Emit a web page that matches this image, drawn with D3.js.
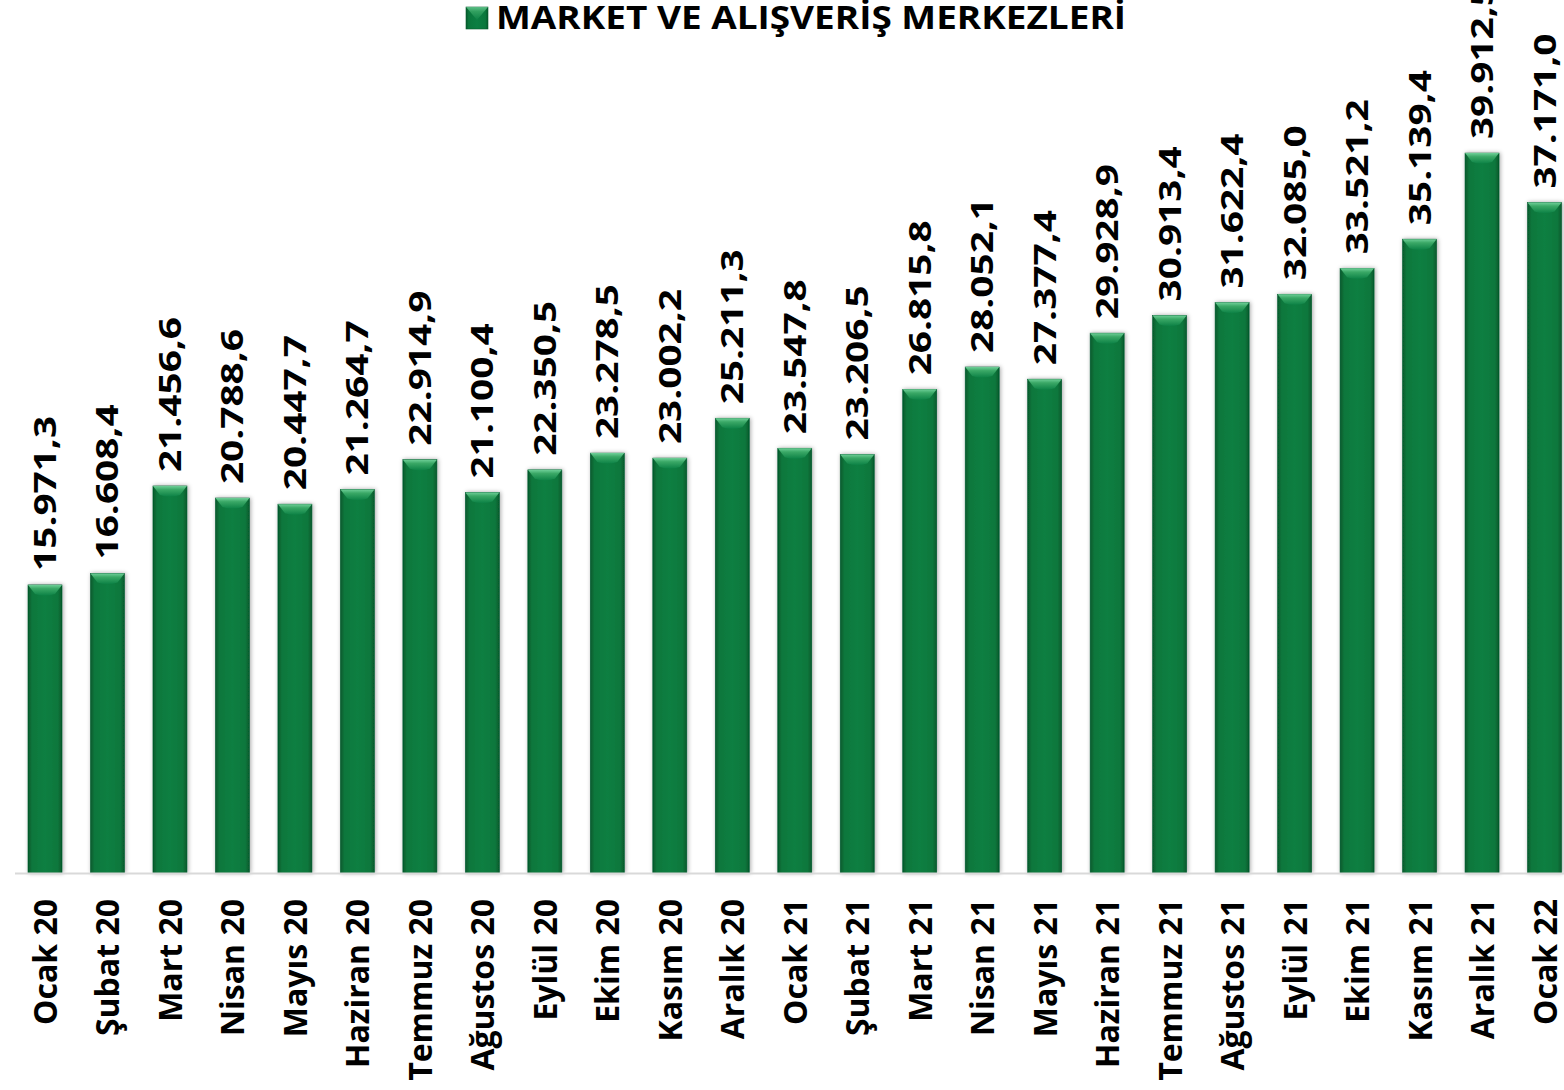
<!DOCTYPE html>
<html>
<head>
<meta charset="utf-8" />
<script src="https://cdnjs.cloudflare.com/ajax/libs/d3/7.8.5/d3.min.js"></script>
<style>
body { margin: 0; background: #fff; }
svg { display: block; font-family: "Open Sans", sans-serif; }
</style>
</head>
<body>
<svg id="chart" width="1564" height="1090"></svg>
<script>
// data
var months = ["Ocak 20","Şubat 20","Mart 20","Nisan 20","Mayıs 20","Haziran 20","Temmuz 20","Ağustos 20",
  "Eylül 20","Ekim 20","Kasım 20","Aralık 20","Ocak 21","Şubat 21","Mart 21","Nisan 21","Mayıs 21",
  "Haziran 21","Temmuz 21","Ağustos 21","Eylül 21","Ekim 21","Kasım 21","Aralık 21","Ocak 22"];
var values = [15971.3,16608.4,21456.6,20788.6,20447.7,21264.7,22914.9,21100.4,22350.5,23278.5,23002.2,
  25211.3,23547.8,23206.5,26815.8,28052.1,27377.4,29928.9,30913.4,31622.4,32085.0,33521.2,35139.4,
  39912.5,37171.0];
var seriesName = "MARKET VE ALIŞVERİŞ MERKEZLERİ";

var svg = d3.select("#chart"),
    width = +svg.attr("width"),
    height = +svg.attr("height");

var trLocale = d3.formatLocale({decimal: ",", thousands: ".", grouping: [3], currency: ["", ""]});
var fmt = trLocale.format(",.1f");

var step = 62.48;
var x = d3.scaleBand()
    .domain(months)
    .range([45 - step / 2, 45 - step / 2 + step * months.length])
    .paddingInner(0.456)
    .paddingOuter(0.228);
var y = d3.scaleLinear().domain([0, 40000]).range([873, 151.5]);

// gradients and shadow
var defs = svg.append("defs");
var body = defs.append("linearGradient").attr("id", "barBody").attr("x1", 0).attr("x2", 1).attr("y1", 0).attr("y2", 0);
[[0, "#06592c"], [0.12, "#0a773c"], [0.5, "#0b7f42"], [0.88, "#0a773c"], [1, "#06592c"]].forEach(function(s) {
  body.append("stop").attr("offset", s[0]).attr("stop-color", s[1]);
});
var cap = defs.append("linearGradient").attr("id", "barCap").attr("x1", 0).attr("x2", 0).attr("y1", 0).attr("y2", 1);
[[0, "#6fcf98"], [0.35, "#3aa866"], [1, "#0d8246"]].forEach(function(s) {
  cap.append("stop").attr("offset", s[0]).attr("stop-color", s[1]);
});
var shadow = defs.append("filter").attr("id", "shadow").attr("x", "-30%").attr("y", "-5%").attr("width", "160%").attr("height", "110%");
shadow.append("feDropShadow").attr("dx", 1).attr("dy", 0).attr("stdDeviation", 2.2)
  .attr("flood-color", "#000").attr("flood-opacity", 0.35);

// bars
var bars = svg.append("g").attr("class", "bars")
  .selectAll("g")
  .data(values)
  .join("g");

bars.append("rect")
    .attr("x", function(d, i) { return x(months[i]); })
    .attr("y", function(d) { return y(d); })
    .attr("width", x.bandwidth())
    .attr("height", function(d) { return y(0) - y(d); })
    .attr("fill", "url(#barBody)")
    .attr("stroke", "#075a2d")
    .attr("stroke-width", 0.6)
    .attr("filter", "url(#shadow)");

bars.append("path")
    .attr("d", function(d, i) {
      var x0 = x(months[i]), w = x.bandwidth(), t = y(d);
      return "M" + x0 + "," + t + "H" + (x0 + w) + "L" + (x0 + w - 7) + "," + (t + 9) +
             "Q" + (x0 + w / 2) + "," + (t + 12) + " " + (x0 + 7) + "," + (t + 9) + "Z";
    })
    .attr("fill", "url(#barCap)");

// axis line
svg.append("line")
    .attr("x1", 15).attr("x2", width)
    .attr("y1", y(0) + 0.5).attr("y2", y(0) + 0.5)
    .attr("stroke", "#d9d9d9").attr("stroke-width", 2);

// value labels
svg.append("g").attr("class", "values")
  .selectAll("text")
  .data(values)
  .join("text")
    .attr("transform", function(d, i) {
      var cx = x(months[i]) + x.bandwidth() / 2;
      return "translate(" + (cx + 11) + "," + (y(d) - 14) + ") rotate(-90) scale(1.25,1)";
    })
    .attr("font-size", 31)
    .attr("font-weight", 700)
    .attr("fill", "#000")
    .text(function(d) { return fmt(d); });

// category labels
svg.append("g").attr("class", "categories")
  .selectAll("text")
  .data(months)
  .join("text")
    .attr("transform", function(d) {
      var cx = x(d) + x.bandwidth() / 2;
      return "translate(" + (cx + 12) + "," + 899 + ") rotate(-90)";
    })
    .attr("text-anchor", "end")
    .attr("font-size", 32)
    .attr("font-weight", 700)
    .attr("fill", "#000")
    .text(function(d) { return d; });

// legend
var legend = svg.append("g").attr("class", "legend");
legend.append("rect")
    .attr("x", 466).attr("y", 7).attr("width", 22).attr("height", 22)
    .attr("fill", "url(#barBody)").attr("stroke", "#075a2d").attr("stroke-width", 0.6);
legend.append("path")
    .attr("d", "M466,7H488L477,20Z")
    .attr("fill", "url(#barCap)").attr("opacity", 0.8);
legend.append("text")
    .attr("x", 496).attr("y", 29)
    .attr("font-size", 32)
    .attr("font-weight", 700)
    .attr("textLength", 630)
    .attr("lengthAdjust", "spacingAndGlyphs")
    .text(seriesName);
</script>
</body>
</html>
